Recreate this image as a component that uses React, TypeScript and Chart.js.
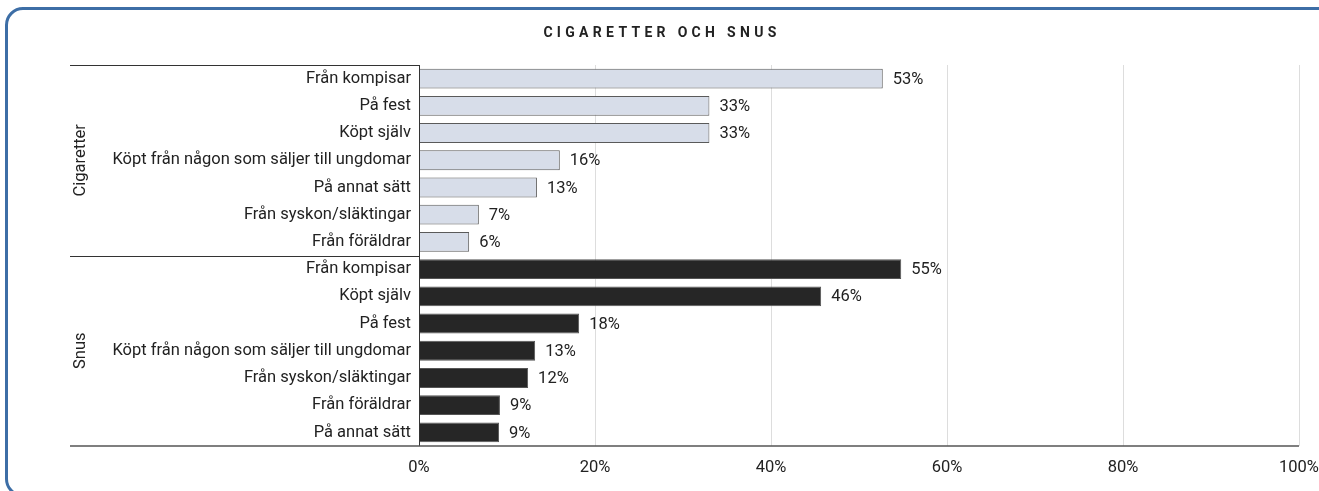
import React, { useEffect, useRef } from "react";
import { Chart, registerables } from "chart.js";

Chart.register(...registerables);

const TITLE = "CIGARETTER OCH SNUS";
const GROUPS = ["Cigaretter", "Snus"];
const cigLabels = [
  "Från kompisar",
  "På fest",
  "Köpt själv",
  "Köpt från någon som säljer till ungdomar",
  "På annat sätt",
  "Från syskon/släktingar",
  "Från föräldrar",
];
const cigValues = [52.7, 33, 33, 16, 13.4, 6.8, 5.7];
const snusLabels = [
  "Från kompisar",
  "Köpt själv",
  "På fest",
  "Köpt från någon som säljer till ungdomar",
  "Från syskon/släktingar",
  "Från föräldrar",
  "På annat sätt",
];
const snusValues = [54.8, 45.7, 18.2, 13.2, 12.4, 9.2, 9.1];
const xTicks = [0, 20, 40, 60, 80, 100];

const FONT = "Roboto, 'Noto Sans', sans-serif";
const TEXT = "#222222";
const FS = 16.5;

export default function App() {
  const ref = useRef<HTMLCanvasElement | null>(null);

  useEffect(() => {
    const canvas = ref.current;
    if (!canvas) return;
    const labels = [...cigLabels, ...snusLabels];
    const values = [...cigValues, ...snusValues];
    const nCig = cigLabels.length;
    const bg = values.map((_, i) => (i < nCig ? "#d7dde9" : "#262626"));
    const bc = values.map((_, i) => (i < nCig ? "#5a5a5a" : "#555555"));

    const deco = {
      id: "deco",
      afterDraw(chart: any) {
        const { ctx, chartArea } = chart;
        const y = chart.scales.y;
        const leftX = 70;
        ctx.save();
        // title
        ctx.font = `bold 14px ${FONT}`;
        ctx.fillStyle = TEXT;
        ctx.textAlign = "center";
        ctx.textBaseline = "middle";
        try {
          (ctx as any).letterSpacing = "4.3px";
        } catch (e) {}
        ctx.fillText(TITLE, 662, 33);
        try {
          (ctx as any).letterSpacing = "0px";
        } catch (e) {}
        // lines
        ctx.strokeStyle = "#333333";
        ctx.lineWidth = 1;
        const sep =
          (y.getPixelForValue(nCig - 1) + y.getPixelForValue(nCig)) / 2;
        ctx.beginPath();
        ctx.moveTo(leftX, Math.round(chartArea.top) + 0.5);
        ctx.lineTo(chartArea.left, Math.round(chartArea.top) + 0.5);
        ctx.moveTo(leftX, Math.round(sep) + 0.5);
        ctx.lineTo(chartArea.left, Math.round(sep) + 0.5);
        ctx.moveTo(Math.round(chartArea.left) + 0.5, chartArea.top);
        ctx.lineTo(Math.round(chartArea.left) + 0.5, chartArea.bottom);
        ctx.stroke();
        ctx.strokeStyle = "#555555";
        ctx.lineWidth = 1.5;
        ctx.beginPath();
        ctx.moveTo(leftX, chartArea.bottom);
        ctx.lineTo(chartArea.right, chartArea.bottom);
        ctx.stroke();
        // group labels
        ctx.font = `${FS}px ${FONT}`;
        ctx.fillStyle = TEXT;
        ctx.textAlign = "center";
        ctx.textBaseline = "middle";
        const mids = [
          (chartArea.top + sep) / 2,
          (sep + chartArea.bottom) / 2,
        ];
        GROUPS.forEach((g, i) => {
          ctx.save();
          ctx.translate(81, mids[i]);
          ctx.rotate(-Math.PI / 2);
          ctx.fillText(g, 0, 0);
          ctx.restore();
        });
        // data labels
        ctx.font = `${FS}px ${FONT}`;
        ctx.textAlign = "left";
        const meta = chart.getDatasetMeta(0);
        meta.data.forEach((bar: any, i: number) => {
          ctx.fillText(Math.round(values[i]) + "%", bar.x + 10, bar.y + 1);
        });
        ctx.restore();
      },
    };

    const chart = new Chart(canvas, {
      type: "bar",
      data: {
        labels,
        datasets: [
          {
            data: values,
            backgroundColor: bg,
            borderColor: bc,
            borderWidth: 1,
            barPercentage: 0.73,
            categoryPercentage: 1,
          },
        ],
      },
      options: {
        indexAxis: "y",
        responsive: false,
        animation: false,
        layout: { padding: { left: 0, right: 20, top: 65, bottom: 0 } },
        plugins: {
          legend: { display: false },
          tooltip: { enabled: false },
          title: { display: false },
        },
        scales: {
          x: {
            min: 0,
            max: 100,
            afterBuildTicks: (s: any) => {
              s.ticks = xTicks.map((v) => ({ value: v }));
            },
            ticks: {
              callback: (v: any) => v + "%",
              font: { family: FONT, size: FS },
              color: TEXT,
              padding: 12,
              maxRotation: 0,
            },
            grid: { color: "#dddddd", drawTicks: false, lineWidth: 1 },
            border: { display: false },
            afterFit: (s: any) => {
              s.height = 45;
              s.paddingLeft = 0;
              s.paddingRight = 0;
            },
          },
          y: {
            ticks: {
              font: { family: FONT, size: FS },
              color: TEXT,
              padding: 0,
              autoSkip: false,
            },
            grid: { display: false },
            border: { display: false },
            afterFit: (s: any) => {
              s.width = 419;
              s.paddingTop = 0;
              s.paddingBottom = 0;
            },
          },
        },
      },
      plugins: [deco],
    } as any);
    return () => chart.destroy();
  }, []);

  return (
    <div
      style={{
        position: "fixed",
        left: 0,
        top: 0,
        width: 1319,
        height: 491,
        overflow: "hidden",
        background: "#ffffff",
      }}
    >
      <div
        style={{
          position: "absolute",
          left: 5,
          top: 7,
          width: 1335,
          height: 490,
          border: "3px solid #3d6ea6",
          borderRadius: 18,
          boxSizing: "border-box",
        }}
      />
      <canvas
        ref={ref}
        width={1319}
        height={491}
        style={{ position: "absolute", left: 0, top: 0, width: 1319, height: 491 }}
      />
    </div>
  );
}
